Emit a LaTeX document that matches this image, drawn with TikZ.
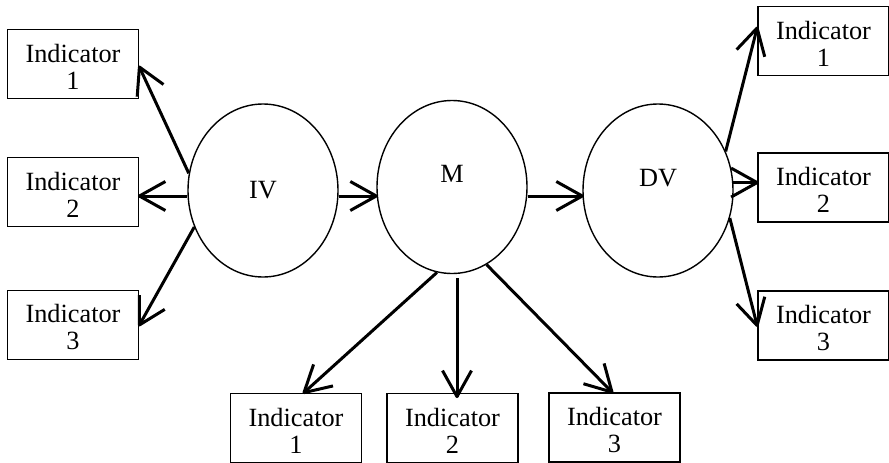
\documentclass[tikz,border=0pt]{standalone}
\usepackage{fontspec}
\setmainfont{Liberation Serif}
\newfontfamily\tnrfont{Liberation Serif}
\usetikzlibrary{shapes.geometric,decorations.markings}
\newcommand{\ind}[1]{\rule{0pt}{23pt}Indicator\\#1}
\begin{document}
\begin{tikzpicture}[x=1pt,y=-1pt,
  indbox/.style={draw,line width=1.8pt,minimum width=131pt,minimum height=69pt,
    inner sep=0pt,align=center,font=\tnrfont\fontsize{26.3}{27}\selectfont},
  latent/.style={draw,ellipse,line width=1.4pt,minimum width=150pt,
    minimum height=173pt,inner sep=0pt},
  vlabel/.style={font=\tnrfont\fontsize{26.3}{27}\selectfont},
  % open V head with straight wings as thick as the shaft
  arr/.style={line width=3pt,
    postaction={decorate,decoration={markings,
      mark=at position 1 with {\draw[line width=3pt,line join=round]
        (-26pt,14.5pt) -- (0pt,0pt) -- (-26pt,-14.5pt);}}}}]
\useasboundingbox (0,0) rectangle (889,463);

% latent variables
\node[latent,label={[vlabel]center:IV}]            (IV) at (263,190.5) {};
\node[latent,label={[vlabel,yshift=13pt]center:M}]  (M)  at (452,187) {};
\node[latent,label={[vlabel,yshift=12pt]center:DV}] (DV) at (658,190.5) {};

% indicators of IV
\node[indbox] (L1) at (73,64)    {\ind{1}};
\node[indbox] (L2) at (73,192)   {\ind{2}};
\node[indbox] (L3) at (73,325)   {\ind{3}};

% indicators of DV
\node[indbox] (R1) at (823.5,41)    {\ind{1}};
\node[indbox] (R2) at (823.5,187.5) {\ind{2}};
\node[indbox] (R3) at (823.5,325.5) {\ind{3}};

% indicators of M
\node[indbox] (B1) at (296,428)     {\ind{1}};
\node[indbox] (B2) at (452.5,428)   {\ind{2}};
\node[indbox] (B3) at (614.5,427.5) {\ind{3}};

% structural paths
\draw[arr] ([yshift=-5.5pt]IV.east) -- ([yshift=-5.5pt]IV.east -| M.west);
\draw[arr] ([yshift=-9pt]M.east) -- ([yshift=-9pt]M.east -| DV.west);

% measurement paths of IV
\draw[arr] (IV.167) -- ([yshift=-3pt]L1.east);
\draw[arr] ([yshift=-5.5pt]IV.west) -- ([yshift=-5.5pt]IV.west -| L2.east);
\draw[arr] (IV.208) -- (L3.east);

% measurement paths of DV
\draw[arr] (DV.30) -- ([yshift=13pt]R1.west);
\draw[arr] (DV.6) -- (DV.6 -| R2.west);
\draw[arr] (DV.-21) -- (R3.west);

% measurement paths of M
\draw[arr] (M.260.6) -- ([xshift=8pt]B1.north);
\draw[arr] ([xshift=5pt,yshift=-4pt]M.south) -- ([xshift=5pt,yshift=-4pt]M.south |- B2.north);
\draw[arr] (M.-66) -- ([xshift=-2.5pt]B3.north);
\end{tikzpicture}
\end{document}
